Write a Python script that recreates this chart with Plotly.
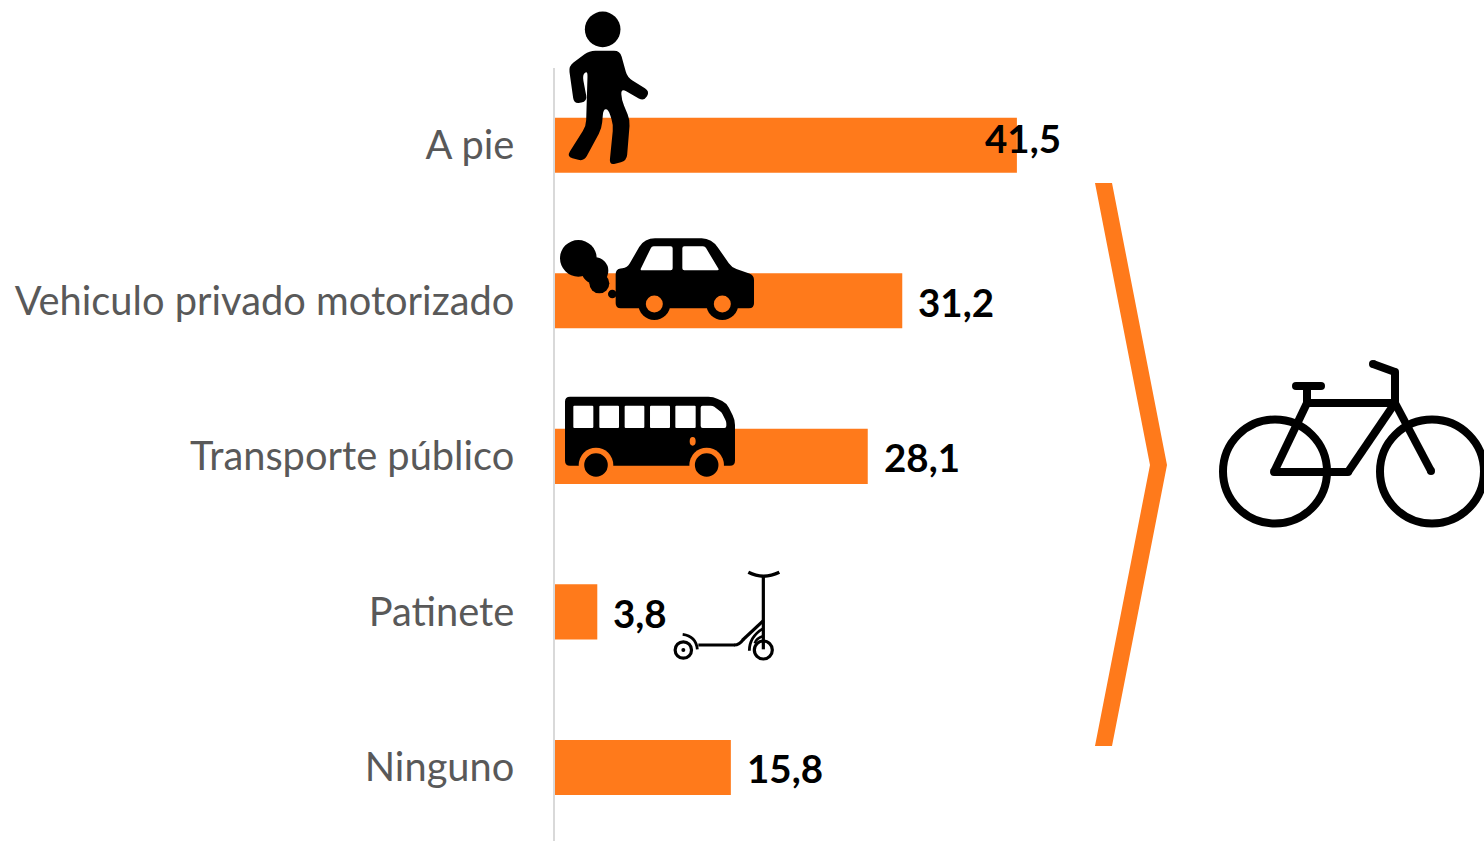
import math
import plotly.graph_objects as go

categories = ["A pie", "Vehiculo privado motorizado", "Transporte público", "Patinete", "Ninguno"]
values = [41.5, 31.2, 28.1, 3.8, 15.8]
value_labels = ["41,5", "31,2", "28,1", "3,8", "15,8"]

W, H = 1484, 841
ORANGE = "#FF7A1B"
BLACK = "#000000"
LABEL_FONT = "Lato"
shapes = []


def px(x, y):
    return x / W, 1 - y / H


def path_of(points, closed=False):
    out = []
    for i, (x, y) in enumerate(points):
        a, b = px(x, y)
        out.append(("M" if i == 0 else "L") + f"{a:.5f},{b:.5f}")
    return " ".join(out) + (" Z" if closed else "")


def polygon(points, color=BLACK, radius=0.0):
    if radius <= 0:
        d = path_of(points, True)
    else:
        n = len(points)
        parts = []
        for i in range(n):
            p0, p1, p2 = points[i - 1], points[i], points[(i + 1) % n]
            def toward(a, b):
                d_ = math.hypot(b[0] - a[0], b[1] - a[1])
                t = min(radius, d_ / 2) / d_
                return a[0] + (b[0] - a[0]) * t, a[1] + (b[1] - a[1]) * t
            s, e = toward(p1, p0), toward(p1, p2)
            sa, ea, ca = px(*s), px(*e), px(*p1)
            parts.append(("M" if i == 0 else "L") + f"{sa[0]:.5f},{sa[1]:.5f}")
            parts.append(f"Q{ca[0]:.5f},{ca[1]:.5f} {ea[0]:.5f},{ea[1]:.5f}")
        d = " ".join(parts) + " Z"
    shapes.append(dict(type="path", xref="paper", yref="paper", path=d,
                       fillcolor=color, line=dict(width=0)))


def ellipse(cx, cy, rx, ry=None, fill=BLACK, stroke=None, width=0):
    ry = rx if ry is None else ry
    a0, b0 = px(cx - rx, cy + ry)
    a1, b1 = px(cx + rx, cy - ry)
    shapes.append(dict(type="circle", xref="paper", yref="paper", x0=a0, y0=b0, x1=a1, y1=b1,
                       fillcolor=fill if fill else "rgba(0,0,0,0)",
                       line=dict(width=width, color=stroke or "rgba(0,0,0,0)")))


def stroke(points, width, color=BLACK, caps=True):
    for p, q in zip(points[:-1], points[1:]):
        shapes.append(dict(type="path", xref="paper", yref="paper", path=path_of([p, q]),
                           fillcolor="rgba(0,0,0,0)", line=dict(width=width, color=color)))
    if caps:
        for x, y in points:
            ellipse(x, y, width / 2, fill=color)


def curve(p0, c, p1, width, color=BLACK):
    a, b, e = px(*p0), px(*c), px(*p1)
    shapes.append(dict(type="path", xref="paper", yref="paper",
                       path=f"M{a[0]:.5f},{a[1]:.5f} Q{b[0]:.5f},{b[1]:.5f} {e[0]:.5f},{e[1]:.5f}",
                       fillcolor="rgba(0,0,0,0)", line=dict(width=width, color=color)))


def z1(x, y):
    return 550 + x / 3, y / 3


def z2(x, y):
    return 550 + x / 3, 380 + y / 3


# ---- chevron
polygon([(1095, 183), (1112, 183), (1167, 465), (1112, 746), (1095, 746), (1150, 465)], ORANGE)

# ---- walker
ellipse(*z1(158, 88), 17.8)
polygon([z1(*p) for p in [
    (118, 152), (210, 152), (232, 232), (300, 274), (282, 304), (213, 265), (215, 300),
    (240, 360), (230, 482), (178, 496), (190, 375), (175, 328), (160, 328), (155, 385),
    (102, 484), (50, 470), (108, 378), (113, 212), (97, 225), (112, 304), (72, 312), (56, 198),
]], radius=6)

# ---- car
for c, r in [((85, 775), 55), ((135, 812), 40), ((148, 850), 30), ((187, 882), 13)]:
    ellipse(*z1(*c), r / 3)
polygon([z1(*p) for p in [
    (197, 808), (232, 803), (275, 728), (300, 715), (470, 715), (495, 730), (545, 802),
    (612, 825), (612, 925), (197, 925),
]], radius=5)
polygon([z1(*p) for p in [(270, 811), (305, 739), (368, 739), (368, 811)]], "#FFFFFF", radius=2)
polygon([z1(*p) for p in [(397, 739), (465, 739), (508, 811), (397, 811)]], "#FFFFFF", radius=2)
for c in [(313, 912), (517, 912)]:
    ellipse(*z1(*c), 16)
    ellipse(*z1(*c), 8.5, fill=ORANGE)

# ---- bus
polygon([z2(*p) for p in [
    (45, 50), (490, 50), (530, 70), (555, 120), (555, 257), (45, 257),
]], radius=5)
for a, b in [(70, 130), (148, 207), (224, 283), (300, 360), (376, 437)]:
    polygon([z2(a, 77), z2(b, 77), z2(b, 144), z2(a, 144)], "#FFFFFF", radius=1)
polygon([z2(*p) for p in [(452, 77), (488, 77), (515, 97), (529, 125), (529, 144), (452, 144)]], "#FFFFFF", radius=2)
ellipse(*z2(428, 184), 3, 4.3, fill=ORANGE)
for c in [(138, 255), (470, 255)]:
    ellipse(*z2(*c), 17.3, fill=ORANGE)
    ellipse(*z2(*c), 11.8)

# ---- scooter
curve(z2(595, 577), z2(640, 600), z2(688, 577), 3.4)
stroke([z2(640, 590), z2(640, 808)], 3.2, caps=False)
stroke([z2(445, 795), z2(555, 795)], 3.2, caps=False)
curve(z2(553, 795), z2(568, 795), z2(580, 778), 3.2)
stroke([z2(578, 780), z2(640, 722)], 3.2, caps=False)
ellipse(*z2(400, 810), 8.2, fill=None, stroke=BLACK, width=3.2)
ellipse(*z2(400, 810), 2, fill=BLACK)
curve(z2(398, 763), z2(438, 768), z2(442, 808), 2.8)
ellipse(*z2(640, 810), 9, fill=None, stroke=BLACK, width=3.2)
curve(z2(640, 745), z2(598, 770), z2(598, 812), 2.8)
curve(z2(640, 768), z2(618, 775), z2(614, 790), 2.4)

# ---- bicycle
ellipse(1275, 471.5, 52, fill=None, stroke=BLACK, width=8)
ellipse(1432, 471.5, 52, fill=None, stroke=BLACK, width=8)
stroke([(1296, 386), (1321, 386)], 8)
stroke([(1307, 386), (1307, 403)], 8, caps=False)
stroke([(1307, 403), (1274, 472), (1348, 472), (1395, 403), (1307, 403)], 8)
stroke([(1373, 364), (1395, 372), (1395, 403), (1431, 471)], 8)

fig = go.Figure(go.Bar(
    x=values, y=categories, orientation="h", width=0.354,
    marker=dict(color=ORANGE, line=dict(width=0)), hoverinfo="skip",
))

label_xshift = [-34, 14, 14, 14, 14]
label_yshift = [7, -1, -1, -1, -1]
for v, c, t, s, u in zip(values, categories, value_labels, label_xshift, label_yshift):
    fig.add_annotation(x=v, y=c, xref="x", yref="y", text=f"<b>{t}</b>", showarrow=False,
                       xanchor="left", yanchor="middle", xshift=s, yshift=u,
                       font=dict(family=LABEL_FONT, size=38.5, color="#000000"))

fig.update_layout(
    width=W, height=H, margin=dict(l=0, r=0, t=0, b=0), autosize=False,
    paper_bgcolor="#FFFFFF", plot_bgcolor="#FFFFFF", showlegend=False, shapes=shapes,
    xaxis=dict(domain=[555 / W, 1], range=[0, 929 / 11.13], visible=False),
    yaxis=dict(domain=[0, 1 - 67.5 / H], type="category", categoryorder="array", categoryarray=categories,
               range=[4.473, -0.5], showline=True, linecolor="#D9D9D9", linewidth=1.5,
               ticks="", showgrid=False, zeroline=False, ticklabelstandoff=31,
               tickfont=dict(family=LABEL_FONT, size=39.8, color="#595959")),
)
fig.write_html("out.html", post_script="document.body.style.margin='0';document.body.style.overflow='hidden';",
               config=dict(displayModeBar=False))
